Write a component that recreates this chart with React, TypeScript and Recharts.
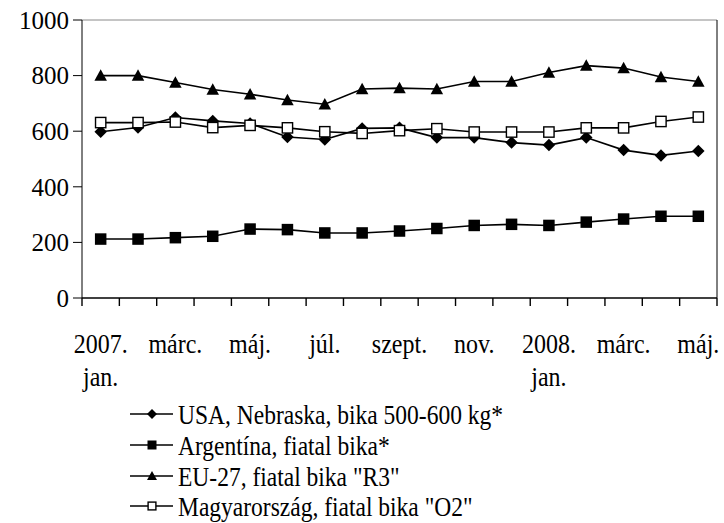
import React from 'react';
import { LineChart, Line, XAxis, YAxis, ReferenceLine, Legend } from 'recharts';

const months = [
  '2007. jan.', 'febr.', 'márc.', 'ápr.', 'máj.', 'jún.', 'júl.', 'aug.', 'szept.',
  'okt.', 'nov.', 'dec.', '2008. jan.', 'febr.', 'márc.', 'ápr.', 'máj.',
];
const usa = [598, 613, 649, 637, 628, 579, 570, 610, 612, 577, 577, 559, 550, 577, 532, 513, 529];
const argentina = [212, 212, 217, 222, 248, 246, 234, 234, 241, 250, 261, 265, 261, 273, 284, 294, 294];
const eu27 = [800, 800, 775, 750, 733, 712, 697, 752, 755, 752, 779, 779, 811, 836, 827, 795, 779];
const hungary = [631, 631, 633, 613, 621, 612, 598, 592, 602, 609, 597, 597, 597, 612, 612, 635, 651];

const xTickLabels: string[][] = [
  ['2007.', 'jan.'], ['márc.'], ['máj.'], ['júl.'], ['szept.'], ['nov.'], ['2008.', 'jan.'], ['márc.'], ['máj.'],
];
const yTicks = [0, 200, 400, 600, 800, 1000];
const seriesNames = [
  'USA, Nebraska, bika 500-600 kg*',
  'Argentína, fiatal bika*',
  'EU-27, fiatal bika "R3"',
  'Magyarország, fiatal bika "O2"',
];

const data = months.map((m, i) => ({
  i,
  month: m,
  usa: usa[i],
  argentina: argentina[i],
  eu27: eu27[i],
  hungary: hungary[i],
}));

const boundaryTicks = [...months.map((_, i) => i - 0.5), months.length - 0.5];
const labelTicks = xTickLabels.map((_, k) => k * 2);

const FONT = '"Liberation Serif", "Times New Roman", serif';

type ShapeKind = 'diamond' | 'square' | 'triangle' | 'open';
const kinds: ShapeKind[] = ['diamond', 'square', 'triangle', 'open'];

const marker = (kind: ShapeKind, cx: number, cy: number, s: number, key?: string) => {
  const h = s / 2;
  if (kind === 'diamond') {
    return <polygon key={key} points={`${cx},${cy - h - 0.5} ${cx + h + 0.5},${cy} ${cx},${cy + h + 0.5} ${cx - h - 0.5},${cy}`} fill="#000" />;
  }
  if (kind === 'square') {
    return <rect key={key} x={cx - h} y={cy - h} width={s} height={s} fill="#000" />;
  }
  if (kind === 'triangle') {
    return <polygon key={key} points={`${cx},${cy - h - 0.5} ${cx + h + 0.5},${cy + h - 0.5} ${cx - h - 0.5},${cy + h - 0.5}`} fill="#000" />;
  }
  return <rect key={key} x={cx - h + 0.6} y={cy - h + 0.6} width={s - 1.2} height={s - 1.2} fill="#fff" stroke="#000" strokeWidth={1.4} />;
};

const makeDot = (kind: ShapeKind) => (props: any) => {
  const { cx, cy, index } = props;
  if (cx == null || cy == null) return <g key={`${kind}-${index}`} />;
  return marker(kind, cx, cy, 11.5, `${kind}-${index}`);
};

const EmptyTick = () => <g />;

const LabelTick = (props: any) => {
  const { x, y, payload } = props;
  const lines = xTickLabels[Math.round(payload.value / 2)] || [];
  return (
    <g>
      {lines.map((t, k) => (
        <text
          key={k}
          transform={`translate(${x},${y + 47 + k * 33}) scale(1,1.12)`}
          x={0}
          y={0}
          textAnchor="middle"
          fontFamily={FONT}
          fontSize={24}
          fill="#000"
        >
          {t}
        </text>
      ))}
    </g>
  );
};

const LegendContent = () => (
  <div style={{ fontFamily: FONT, fontSize: 23.5, color: '#000' }}>
    {seriesNames.map((name, k) => (
      <div key={name} style={{ height: 30.7, display: 'flex', alignItems: 'center', whiteSpace: 'nowrap' }}>
        <svg width={44} height={20} style={{ display: 'block' }}>
          <line x1={0} y1={10} x2={43} y2={10} stroke="#000" strokeWidth={1.4} />
          {marker(kinds[k], 22, 10, 9)}
        </svg>
        <span style={{ marginLeft: 4, display: 'inline-block', transform: 'scaleY(1.2)', lineHeight: '30px' }}>{name}</span>
      </div>
    ))}
  </div>
);

export default function App() {
  return (
    <div style={{ position: 'absolute', left: 0, top: 0, width: 724, height: 523, background: '#fff' }}>
      <LineChart width={724} height={523} data={data} margin={{ top: 20, right: 7, left: 0, bottom: 117 }}>
        <XAxis
          xAxisId="a"
          type="number"
          dataKey="i"
          domain={[-0.5, months.length - 0.5]}
          ticks={boundaryTicks}
          tick={<EmptyTick />}
          tickSize={8}
          height={8}
          stroke="#000"
          strokeWidth={1.4}
          interval={0}
          allowDataOverflow
        />
        <XAxis
          xAxisId="b"
          type="number"
          dataKey="i"
          domain={[-0.5, months.length - 0.5]}
          ticks={labelTicks}
          tick={<LabelTick />}
          tickLine={false}
          axisLine={false}
          tickSize={0}
          tickMargin={0}
          height={100}
          interval={0}
          allowDataOverflow
        />
        <YAxis
          domain={[0, 1000]}
          ticks={yTicks}
          width={82}
          tickSize={9}
          tickMargin={4}
          stroke="#000"
          interval={0}
          tick={{ fontFamily: FONT, fontSize: 25, fill: '#000' }}
        />
        <ReferenceLine xAxisId="a" y={1000} stroke="#8a8a8a" strokeWidth={1} />
        <ReferenceLine xAxisId="a" x={months.length - 0.5} stroke="#000" strokeWidth={1} />
        <Line xAxisId="a" dataKey="usa" name={seriesNames[0]} stroke="#000" strokeWidth={1.6} dot={makeDot('diamond')} isAnimationActive={false} />
        <Line xAxisId="a" dataKey="argentina" name={seriesNames[1]} stroke="#000" strokeWidth={1.6} dot={makeDot('square')} isAnimationActive={false} />
        <Line xAxisId="a" dataKey="eu27" name={seriesNames[2]} stroke="#000" strokeWidth={1.6} dot={makeDot('triangle')} isAnimationActive={false} />
        <Line xAxisId="a" dataKey="hungary" name={seriesNames[3]} stroke="#000" strokeWidth={1.6} dot={makeDot('open')} isAnimationActive={false} />
        <Legend
          layout="vertical"
          align="center"
          verticalAlign="middle"
          content={<LegendContent />}
          wrapperStyle={{ left: 130, top: 399, width: 'auto', height: 'auto' }}
        />
      </LineChart>
    </div>
  );
}
